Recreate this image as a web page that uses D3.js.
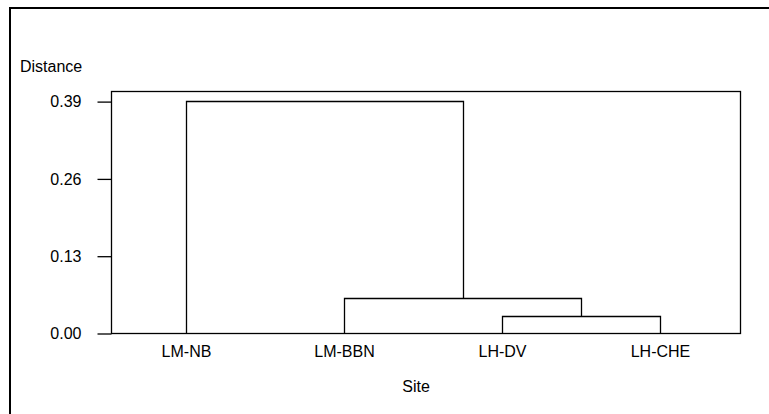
<!DOCTYPE html>
<html>
<head>
<meta charset="utf-8">
<script src="https://cdn.jsdelivr.net/npm/d3@7"></script>
<style>
  html, body { margin: 0; padding: 0; background: #fff; }
  svg { display: block; }
  text { font-family: "Liberation Sans", Arial, sans-serif; fill: #000; }
</style>
</head>
<body>
<svg id="chart" width="769" height="414"></svg>
<script>
// Data
const sites = ["LM-NB", "LM-BBN", "LH-DV", "LH-CHE"];
const tickValues = [0.00, 0.13, 0.26, 0.39];
const tickLabels = ["0.00", "0.13", "0.26", "0.39"];
// merges: [left child, right child, height]; children: leaf name or merge index
const merges = [
  ["LH-DV", "LH-CHE", 0.029],
  ["LM-BBN", 0, 0.059],
  ["LM-NB", 1, 0.39]
];
const yMax = 0.407;

const svg = d3.select("#chart");
const W = 769, H = 414;
const FS = 16;
const plot = { left: 111, right: 740, top: 91, bottom: 333 };

// outer frame (partially visible)
svg.append("path")
  .attr("d", `M10,${H + 2} L10,8 L${W + 2},8`)
  .attr("fill", "none").attr("stroke", "#000").attr("stroke-width", 2);

const x = d3.scalePoint().domain(sites).range([107, 739]).padding(0.5);
const y = d3.scaleLinear().domain([0, yMax]).range([plot.bottom, plot.top]);

// plot box
svg.append("rect")
  .attr("x", plot.left + 0.5).attr("y", y(yMax) + 0.5)
  .attr("width", plot.right - plot.left).attr("height", y(0) - y(yMax))
  .attr("fill", "none").attr("stroke", "#000").attr("stroke-width", 1.3);

// y axis
const yAxis = d3.axisLeft(y).tickValues(tickValues)
  .tickFormat((d, i) => tickLabels[i]).tickSize(14).tickPadding(16);
const gy = svg.append("g").attr("transform", `translate(${plot.left + 0.5},0.5)`).call(yAxis);
gy.select(".domain").remove();
gy.selectAll(".tick line").attr("stroke", "#000").attr("stroke-width", 1.3);
gy.selectAll(".tick text").attr("font-size", FS).attr("font-family", "Liberation Sans, Arial, sans-serif").attr("fill", "#000");

// x axis labels
const xAxis = d3.axisBottom(x).tickSize(0).tickPadding(12);
const gx = svg.append("g").attr("transform", `translate(0,${plot.bottom + 0.5})`).call(xAxis);
gx.select(".domain").remove();
gx.selectAll(".tick text").attr("font-size", FS).attr("font-family", "Liberation Sans, Arial, sans-serif").attr("fill", "#000");

// dendrogram
const nodes = [];
function pos(c) {
  if (typeof c === "string") return { x: x(c), h: 0 };
  return nodes[c];
}
const g = svg.append("g").attr("fill", "none").attr("stroke", "#000").attr("stroke-width", 1.3);
merges.forEach(([a, b, h]) => {
  const pa = pos(a), pb = pos(b);
  g.append("path").attr("d",
    `M${Math.round(pa.x) + 0.5},${y(pa.h) + 0.5} V${Math.round(y(h)) + 0.5} H${Math.round(pb.x) + 0.5} V${y(pb.h) + 0.5}`);
  nodes.push({ x: (pa.x + pb.x) / 2, h: h });
});

// axis titles
svg.append("text").attr("x", 20).attr("y", 72).attr("font-size", FS).text("Distance");
svg.append("text").attr("x", 416).attr("y", 392).attr("font-size", FS).attr("text-anchor", "middle").text("Site");
</script>
</body>
</html>
